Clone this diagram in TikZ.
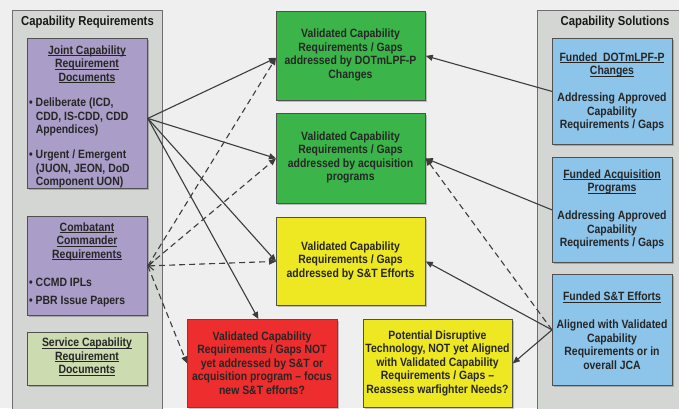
\documentclass[tikz,border=0pt]{standalone}
\usepackage{fontspec}
\setmainfont{Liberation Sans}[FakeStretch=0.87]
\usetikzlibrary{arrows.meta,shadows}

\definecolor{bgc}{HTML}{EFEFEF}
\definecolor{panelc}{HTML}{D4D6D4}
\definecolor{panelline}{HTML}{6E6E6E}
\definecolor{boxline}{HTML}{505050}
\definecolor{linec}{HTML}{3C3C3C}
\definecolor{purplec}{HTML}{AA9DC8}
\definecolor{sgreenc}{HTML}{CCDBB0}
\definecolor{greenc}{HTML}{3BB54A}
\definecolor{yellowc}{HTML}{EEE822}
\definecolor{redc}{HTML}{EE2E2E}
\definecolor{bluec}{HTML}{8DC4EA}

% underline drawn just under the baseline, without changing the line's depth
\newcommand\ulx[1]{\setbox0\hbox{#1}\rlap{\rule[-1.7pt]{\wd0}{0.6pt}}\box0}

\begin{document}
\begin{tikzpicture}[x=1pt,y=-1pt,
  panel/.style={draw=panelline, fill=panelc, line width=0.8pt, inner sep=0pt, anchor=north west},
  box/.style={draw=boxline, line width=0.8pt, inner sep=0pt, anchor=north west,
    drop shadow={shadow xshift=1.5pt,shadow yshift=-1.5pt,fill=black,opacity=0.22}},
  txt/.style={font=\bfseries\fontsize{12}{13.5}\selectfont, align=center, inner sep=0pt, text=black!85},
  ltxt/.style={txt, align=left, anchor=west},
  title/.style={font=\bfseries\fontsize{13}{15}\selectfont, inner sep=0pt, text=black!90},
  conn/.style={draw=linec, line width=1.1pt, -{Triangle[length=7pt,width=6pt]}},
  dconn/.style={conn, dash pattern=on 6pt off 4pt}]

\clip (0,0) rectangle (679,408);
\fill[bgc] (0,0) rectangle (679,408);

% side panels
\node[panel, minimum width=150pt, minimum height=420pt] (reqpanel) at (12,10) {};
\node[panel, minimum width=160pt, minimum height=420pt] (solpanel) at (537,10) {};
\node[title] (reqtitle) at (87.5,22) {Capability Requirements};
\node[title] (soltitle) at (615,22) {Capability Solutions};

% requirement sources
\node[box, fill=purplec, minimum width=120pt, minimum height=150pt] (jcrd) at (27,38) {};
\node[txt] (jcrdhead) at (87,64) {\ulx{Joint Capability}\\\ulx{Requirement}\\\ulx{Documents}};
\node[ltxt] (jcrdb1) at (29,117) {\textbullet\ Deliberate (ICD,\\\phantom{\textbullet\ }CDD, IS-CDD, CDD\\\phantom{\textbullet\ }Appendices)};
\node[ltxt] (jcrdb2) at (29,169) {\textbullet\ Urgent / Emergent\\\phantom{\textbullet\ }(JUON, JEON, DoD\\\phantom{\textbullet\ }Component UON)};

\node[box, fill=purplec, minimum width=120pt, minimum height=99pt] (comb) at (27,216) {};
\node[txt] (combhead) at (87,241.5) {\ulx{Combatant}\\\ulx{Commander}\\\ulx{Requirements}};
\node[ltxt] (combb1) at (29,282) {\textbullet\ CCMD IPLs};
\node[ltxt] (combb2) at (29,302) {\textbullet\ PBR Issue Papers};

\node[box, fill=sgreenc, minimum width=120pt, minimum height=53pt] (svc) at (27,332) {};
\node[txt] (svchead) at (87,356.5) {\ulx{Service Capability}\\\ulx{Requirement}\\\ulx{Documents}};

% outcome boxes
\node[box, fill=greenc, minimum width=149pt, minimum height=89pt] (g1) at (276,11) {};
\node[txt] (g1t) at (350.5,55) {Validated Capability\\Requirements / Gaps\\addressed by DOTmLPF-P\\Changes};
\node[box, fill=greenc, minimum width=149pt, minimum height=90pt] (g2) at (276,113) {};
\node[txt] (g2t) at (350.5,157.5) {Validated Capability\\Requirements / Gaps\\addressed by acquisition\\programs};
\node[box, fill=yellowc, minimum width=149pt, minimum height=88pt] (y3) at (276,217) {};
\node[txt] (y3t) at (350.5,260.5) {Validated Capability\\Requirements / Gaps\\addressed by S\&T Efforts};
\node[box, fill=redc, minimum width=150pt, minimum height=88pt] (red) at (187,319) {};
\node[txt] (redt) at (262,363) {Validated Capability\\Requirements / Gaps NOT\\yet addressed by S\&T or\\acquisition program -- focus\\new S\&T efforts?};
\node[box, fill=yellowc, minimum width=149pt, minimum height=88pt] (dis) at (363,319) {};
\node[txt] (dist) at (437.5,363) {Potential Disruptive\\Technology, NOT yet Aligned\\with Validated Capability\\Requirements / Gaps --\\Reassess warfighter Needs?};

% solution sources
\node[box, fill=bluec, minimum width=120pt, minimum height=106pt] (dot) at (552,38) {};
\node[txt] (dothead) at (612,65) {\ulx{Funded\ \ DOTmLPF-P}\\\ulx{Changes}};
\node[txt] (dotbody) at (612,112) {Addressing Approved\\Capability\\Requirements / Gaps};
\node[box, fill=bluec, minimum width=120pt, minimum height=105pt] (acq) at (552,157) {};
\node[txt] (acqhead) at (612,182) {\ulx{Funded Acquisition}\\\ulx{Programs}};
\node[txt] (acqbody) at (612,230) {Addressing Approved\\Capability\\Requirements / Gaps};
\node[box, fill=bluec, minimum width=120pt, minimum height=111pt] (st) at (552,274) {};
\node[txt] (sthead) at (612,297) {\ulx{Funded S\&T Efforts}};
\node[txt] (stbody) at (612,344.5) {Aligned with Validated\\Capability\\Requirements or in\\overall JCA};

% joint documents feed all outcomes
\coordinate (jout) at ([yshift=-5pt]jcrd.east);
\draw[conn] (jout) -- ([yshift=-2pt]g1.west);
\draw[conn] (jout) -- (g2.west);
\draw[conn] (jout) -- (y3.west);
\draw[conn] (jout) -- ([xshift=-4pt]red.north);

% combatant commander requirements
\draw[dconn] (comb.east) -- ([yshift=-2pt]g1.west);
\draw[dconn] (comb.east) -- (g2.west);
\draw[dconn, {Straight Barb[length=5pt,width=9pt]}-{Triangle[length=7pt,width=6pt]}] (comb.east) -- (y3.west);
\draw[dconn] (comb.east) -- (red.west);

% solutions back to outcomes
\draw[conn] (dot.west) -- (g1.east);
\draw[conn] (acq.west) -- (g2.east);
\draw[dconn] (st.west) -- (g2.east);
\draw[conn] (st.west) -- (y3.east);
\draw[conn] (st.west) -- (dis.east);
\end{tikzpicture}
\end{document}
